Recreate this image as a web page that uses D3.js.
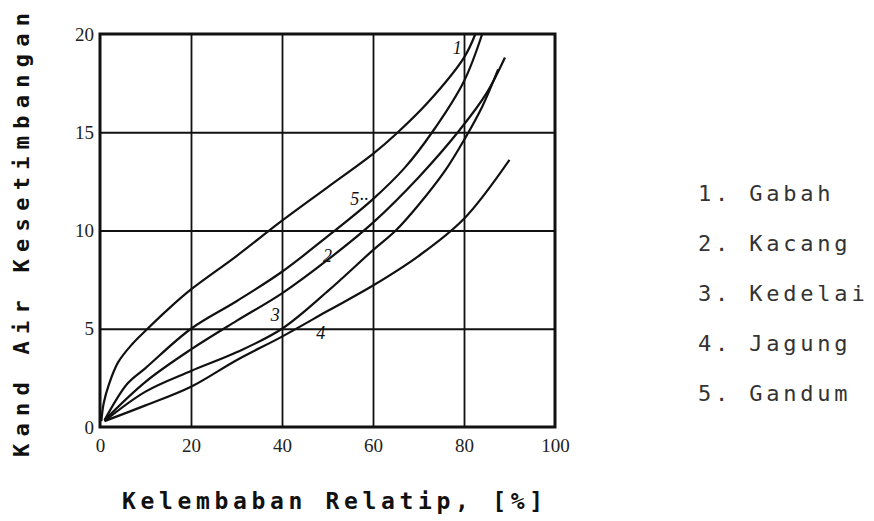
<!DOCTYPE html>
<html>
<head>
<meta charset="utf-8">
<script src="https://cdn.jsdelivr.net/npm/d3@7"></script>
<style>
  body { margin: 0; background: #fff; }
  svg { display: block; }
  .tick text { font-family: "Liberation Serif", serif; font-size: 19px; fill: #222; }
</style>
</head>
<body>
<div id="chart"></div>
<script>
// kadar air kesetimbangan vs kelembaban relatip
let names = ["Gabah", "Kacang", "Kedelai", "Jagung", "Gandum"];
let curve_labels = ["1", "2", "3", "4", "5··"];

let gabah   = [[0.3,0.3],[0.8,1.2],[2,2.2],[4,3.3],[7,4.2],[10,4.9],[15,6.0],[20,7.0],[30,8.7],[40,10.5],[50,12.2],[60,13.9],[65,14.9],[72,16.5],[80,18.8],[82.5,20]];
let gandum  = [[1,0.35],[6,2.2],[10,3.0],[20,5.0],[30,6.4],[40,7.9],[50,9.7],[60,11.6],[67,13.2],[73,15.0],[80,17.6],[84,20]];
let kacang  = [[1,0.35],[10,2.3],[20,3.95],[30,5.4],[40,6.8],[50,8.5],[60,10.4],[70,12.7],[79,15.1],[85,17.0],[89,18.8]];
let kedelai = [[1,0.3],[10,1.8],[20,2.85],[30,3.8],[40,5.0],[50,6.9],[60,9.0],[65,10.0],[70,11.3],[76,13.1],[80,14.6],[84,16.3],[87.5,18.2]];
let jagung  = [[1,0.3],[10,1.1],[20,2.05],[30,3.4],[40,4.6],[50,5.9],[60,7.2],[70,8.7],[80,10.6],[90,13.6]];

// where the hand-written numbers sit [rh, emc]
let label_pos = [[77.5,19.0],[49,8.4],[37.5,5.4],[47.5,4.5],[55,11.3]];

let x_ticks = [0, 20, 40, 60, 80, 100];
let y_ticks = [0, 5, 10, 15, 20];

let width = 874, height = 521;
let margin = {left: 100, top: 34, right: 319, bottom: 94};
let plot_w = width - margin.left - margin.right,
    plot_h = height - margin.top - margin.bottom;

var svg = d3.select("#chart")
    .append("svg")
    .attr("width", width)
    .attr("height", height);

var g = svg.append("g")
    .attr("transform", `translate(${margin.left},${margin.top})`);

let x = d3.scaleLinear().domain([0, 100]).range([0, plot_w]);
let y = d3.scaleLinear().domain([0, 20]).range([plot_h, 0]);

// grid
g.append("g")
    .call(d3.axisBottom(x).tickValues([20, 40, 60, 80]).tickSize(plot_h).tickFormat(""))
    .call(a => a.select(".domain").remove())
    .selectAll("line").attr("stroke", "#111").attr("stroke-width", 1.8);

g.append("g")
    .call(d3.axisLeft(y).tickValues([5, 10, 15]).tickSize(-plot_w).tickFormat(""))
    .call(a => a.select(".domain").remove())
    .selectAll("line").attr("stroke", "#111").attr("stroke-width", 1.8);

// tick labels
g.append("g")
    .attr("transform", `translate(0,${plot_h})`)
    .call(d3.axisBottom(x).tickValues(x_ticks).tickSize(0).tickPadding(12))
    .call(a => a.select(".domain").remove());

g.append("g")
    .call(d3.axisLeft(y).tickValues(y_ticks).tickSize(0).tickPadding(6))
    .call(a => a.select(".domain").remove());

// frame
g.append("rect")
    .attr("width", plot_w)
    .attr("height", plot_h)
    .attr("fill", "none")
    .attr("stroke", "#111")
    .attr("stroke-width", 3);

// curves
let line = d3.line()
    .x(d => x(d[0]))
    .y(d => y(d[1]))
    .curve(d3.curveCatmullRom.alpha(0.5));

let series = [gabah, kacang, kedelai, jagung, gandum];
g.selectAll(".curve")
    .data(series)
    .enter()
    .append("path")
    .attr("class", "curve")
    .attr("d", line)
    .attr("fill", "none")
    .attr("stroke", "#111")
    .attr("stroke-width", 2.2);

g.selectAll(".clabel")
    .data(curve_labels)
    .enter()
    .append("text")
    .attr("class", "clabel")
    .attr("x", (d, i) => x(label_pos[i][0]))
    .attr("y", (d, i) => y(label_pos[i][1]))
    .style("font-family", "Liberation Serif, serif")
    .style("font-style", "italic")
    .style("font-size", "18px")
    .attr("fill", "#111")
    .text(d => d);

// axis titles
svg.append("text")
    .attr("x", 122)
    .attr("y", 509)
    .attr("textLength", 421)
    .attr("lengthAdjust", "spacing")
    .style("font-family", "DejaVu Sans Mono, monospace")
    .style("font-weight", "bold")
    .style("font-size", "23px")
    .attr("fill", "#111")
    .text("Kelembaban Relatip, [%]");

svg.append("text")
    .attr("transform", "translate(29,457) rotate(-90)")
    .attr("textLength", 444)
    .attr("lengthAdjust", "spacing")
    .style("font-family", "DejaVu Sans Mono, monospace")
    .style("font-weight", "bold")
    .style("font-size", "22px")
    .attr("fill", "#111")
    .text("Kand Air Kesetimbangan");

// legend
svg.selectAll(".leg")
    .data(names)
    .enter()
    .append("text")
    .attr("class", "leg")
    .attr("x", 698)
    .attr("y", (d, i) => 201 + i * 50)
    .style("font-family", "DejaVu Sans Mono, monospace")
    .style("font-size", "22px")
    .style("letter-spacing", "3.8px")
    .attr("fill", "#333")
    .text((d, i) => (i + 1) + ". " + d);
</script>
</body>
</html>
